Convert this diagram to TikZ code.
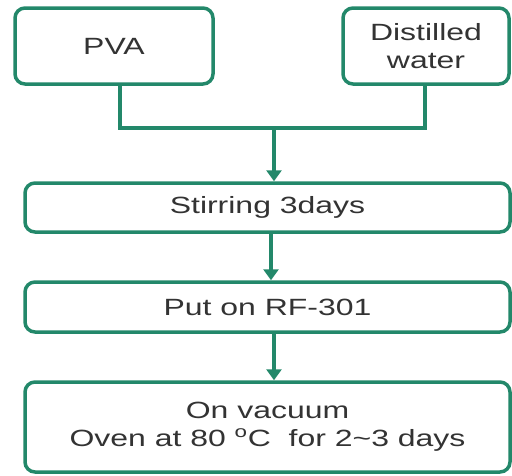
\documentclass[tikz,border=0pt]{standalone}
\usepackage{fontspec}
\setmainfont{Liberation Sans}
\usetikzlibrary{arrows.meta}
\definecolor{teal1}{HTML}{23886A}
\definecolor{txt}{HTML}{333333}
\newcommand{\wtext}[1]{\scalebox{1.36}[1]{#1}}
\begin{document}
\begin{tikzpicture}[x=1pt,y=-1pt,
  box/.style={draw=teal1,line width=3.5pt,rounded corners=10pt,fill=white,
    text=txt,font=\fontsize{23.5}{28}\selectfont,align=center,inner sep=0pt},
  link/.style={draw=teal1,line width=3.5pt},
  arr/.style={link,-{Triangle[width=15pt,length=11pt]}}]
\useasboundingbox (0,0) rectangle (512,475);
\node[box,minimum width=198pt,minimum height=76pt] (pva) at (114,46) {\wtext{PVA}};
\node[box,minimum width=166pt,minimum height=76pt] (ds) at (426,46) {\wtext{Distilled}\\\wtext{water}};
\node[box,minimum width=485pt,minimum height=49pt] (stir) at (267.5,207.5) {\wtext{Stirring 3days}};
\node[box,minimum width=485pt,minimum height=50pt] (rf) at (267.5,307) {\wtext{Put on RF-301}};
\node[box,minimum width=485pt,minimum height=90pt] (oven) at (267.5,427) {\wtext{On vacuum}\\\wtext{Oven at 80 \textsuperscript{o}C\ \ for 2\textasciitilde 3 days}};
\coordinate (jl) at (120,128);
\coordinate (jr) at (425,128);
\coordinate (j) at (274,128);
\draw[link] (pva.south -| jl) -- (jl) -- (jr) -- (ds.south -| jr);
\draw[arr] (j) -- (stir.north -| j);
\draw[arr] (stir.south -| 271,0) -- (rf.north -| 271,0);
\draw[arr] (rf.south -| 274,0) -- (oven.north -| 274,0);
\end{tikzpicture}
\end{document}
